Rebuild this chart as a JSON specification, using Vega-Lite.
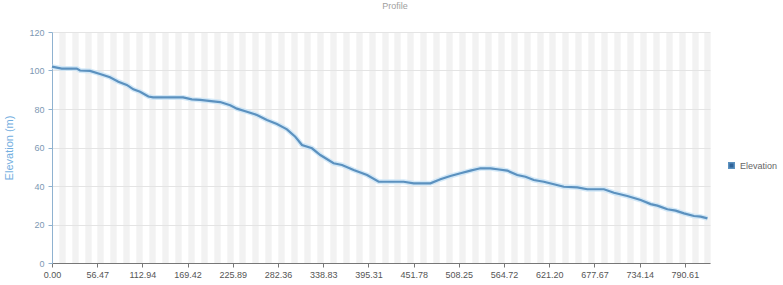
{
  "$schema": "https://vega.github.io/schema/vega-lite/v6.json",
  "width": 658,
  "height": 231,
  "autosize": {"type": "none"},
  "padding": {"left": 52, "top": 32, "right": 73, "bottom": 22},
  "background": "white",
  "title": {"text": "Profile", "fontSize": 9, "font": "Liberation Sans", "fontWeight": "normal", "color": "#a0a0a0", "anchor": "middle", "offset": 17, "dx": 14},
  "config": {
    "view": {"stroke": null},
    "font": "Liberation Sans"
  },
  "data": {"values": [
    {"d": 0, "e": 102}, {"d": 12.1, "e": 101}, {"d": 30.9, "e": 101}, {"d": 35, "e": 100},
    {"d": 47.5, "e": 99.8}, {"d": 60, "e": 98.2}, {"d": 72.5, "e": 96.5}, {"d": 82.9, "e": 94.2},
    {"d": 93.4, "e": 92.5}, {"d": 101.7, "e": 90.2}, {"d": 110, "e": 89}, {"d": 120.4, "e": 86.5},
    {"d": 126.3, "e": 86}, {"d": 163.8, "e": 86}, {"d": 174.7, "e": 85}, {"d": 185.1, "e": 84.7},
    {"d": 201.4, "e": 84}, {"d": 210.1, "e": 83.6}, {"d": 222.6, "e": 82}, {"d": 231, "e": 80.2},
    {"d": 243.5, "e": 78.6}, {"d": 256, "e": 76.9}, {"d": 268.5, "e": 74.3}, {"d": 281, "e": 72.2},
    {"d": 293.5, "e": 69.4}, {"d": 303.9, "e": 65.6}, {"d": 312.3, "e": 61.3}, {"d": 324.8, "e": 59.6},
    {"d": 335.2, "e": 56.1}, {"d": 351.8, "e": 51.8}, {"d": 362.3, "e": 50.9}, {"d": 376.8, "e": 48.3},
    {"d": 393.6, "e": 45.7}, {"d": 408.1, "e": 42.2}, {"d": 439.3, "e": 42.2}, {"d": 451.9, "e": 41.4},
    {"d": 472.7, "e": 41.4}, {"d": 485.2, "e": 43.5}, {"d": 497.7, "e": 45.2}, {"d": 510.3, "e": 46.6},
    {"d": 522.8, "e": 48}, {"d": 535.3, "e": 49.2}, {"d": 547.8, "e": 49.2}, {"d": 556.2, "e": 48.7},
    {"d": 568.7, "e": 48}, {"d": 581.2, "e": 45.7}, {"d": 591.5, "e": 44.8}, {"d": 601.9, "e": 43.1},
    {"d": 614.4, "e": 42.2}, {"d": 626.9, "e": 40.9}, {"d": 639.4, "e": 39.6}, {"d": 656.2, "e": 39.3},
    {"d": 668.7, "e": 38.3}, {"d": 689.5, "e": 38.3}, {"d": 702, "e": 36.5}, {"d": 718.7, "e": 34.8},
    {"d": 735.4, "e": 32.7}, {"d": 747.9, "e": 30.6}, {"d": 756.3, "e": 29.8}, {"d": 768.8, "e": 27.9},
    {"d": 779.1, "e": 27.2}, {"d": 789.5, "e": 25.8}, {"d": 802, "e": 24.4}, {"d": 810.4, "e": 24.1},
    {"d": 818.8, "e": 23.2}
  ]},
  "layer": [
    {
      "mark": {"type": "rule", "opacity": 0},
      "encoding": {
        "x": {
          "field": "d", "type": "quantitative",
          "scale": {"domain": [0, 822], "nice": false, "zero": false},
          "axis": {
            "orient": "top", "title": null, "labels": false, "ticks": false, "domain": false,
            "grid": true, "gridColor": "#f2f2f2", "gridWidth": 6.4, "gridOpacity": 1,
            "values": [12.1, 28.23, 44.37, 60.5, 76.64, 92.77, 108.9, 125.04, 141.17, 157.31, 173.44, 189.57, 205.71, 221.84, 237.98, 254.11, 270.24, 286.38, 302.51, 318.65, 334.78, 350.91, 367.05, 383.18, 399.32, 415.45, 431.58, 447.72, 463.85, 479.99, 496.12, 512.25, 528.39, 544.52, 560.66, 576.79, 592.92, 609.06, 625.19, 641.33, 657.46, 673.59, 689.73, 705.86, 722.0, 738.13, 754.26, 770.4, 786.53, 802.67, 818.8]
          }
        }
      }
    },
    {
      "encoding": {
        "x": {
          "field": "d", "type": "quantitative",
          "axis": {
            "orient": "bottom", "title": null, "grid": false,
            "values": [0, 56.47, 112.94, 169.42, 225.89, 282.36, 338.83, 395.31, 451.78, 508.25, 564.72, 621.2, 677.67, 734.14, 790.61],
            "format": ".2f", "labelFontSize": 9, "labelColor": "#555555",
            "domainColor": "#777777", "tickColor": "#777777", "tickSize": 4,
            "labelPadding": 3, "labelFlush": false, "labelOverlap": false
          }
        },
        "y": {
          "field": "e", "type": "quantitative",
          "scale": {"domain": [0, 120], "nice": false},
          "axis": {
            "title": "Elevation (m)", "titleColor": "#72aee0", "titleFontSize": 11, "titleFontWeight": "normal",
            "titlePadding": 14,
            "values": [0, 20, 40, 60, 80, 100, 120], "labelOverlap": false,
            "labelFontSize": 9, "labelColor": "#7d98b3", "labelPadding": 4,
            "domainColor": "#8fb2d0", "tickColor": "#8fb2d0", "tickSize": 4,
            "grid": true, "gridColor": "#e4e4e4"
          }
        }
      },
      "layer": [
        {
          "mark": {"type": "line", "color": "#c9e4f6", "strokeWidth": 5, "opacity": 0.8}
        },
        {
          "mark": {"type": "line", "strokeWidth": 2.2},
          "encoding": {
            "color": {
              "datum": "Elevation",
              "scale": {"range": ["#5b91bf"]},
              "legend": {
                "title": null, "orient": "none", "legendX": 675, "legendY": 129,
                "symbolType": "square", "symbolSize": 30, "symbolFillColor": "#2f6399",
                "labelFontSize": 9, "labelColor": "#666666"
              }
            }
          }
        }
      ]
    }
  ],
  "resolve": {"axis": {"x": "independent"}}
}
